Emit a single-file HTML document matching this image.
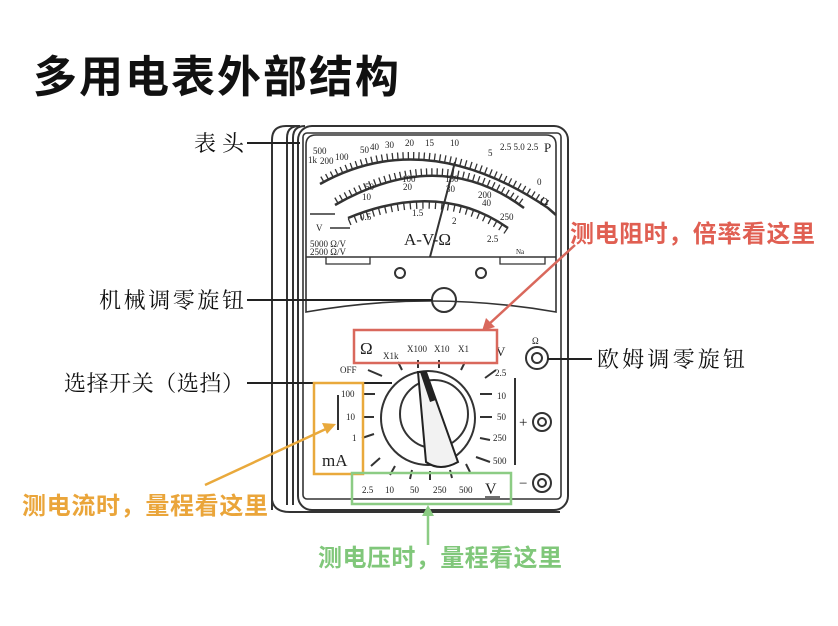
<!DOCTYPE html>
<html><head><meta charset="utf-8"><style>
body{margin:0;background:#fff;width:838px;height:626px;overflow:hidden}
svg{display:block}
.t{font-family:"Liberation Serif","Noto Serif CJK SC",serif;fill:#222}
.c{font-family:"Liberation Sans","Noto Sans CJK SC",sans-serif;font-weight:bold}
.s{font-family:"Liberation Serif","Noto Serif CJK SC",serif;fill:#111}
</style></head><body>
<svg width="838" height="626" viewBox="0 0 838 626" xmlns="http://www.w3.org/2000/svg">
<text x="33" y="92" class="c" font-size="44" letter-spacing="2" fill="#111">多用电表外部结构</text>
<g fill="none" stroke="#333" stroke-width="2">
<path d="M272,510 V140 Q272,126 286,126 H300"/>
<path d="M287,505 V138 Q287,126 299,126"/>
<path d="M293,505 V138 Q293,126 305,126"/>
<rect x="298" y="126" width="270" height="384" rx="14"/>
<path d="M272,500 Q274,512 290,512 H560"/>
<rect x="303" y="133" width="258" height="366" rx="4" stroke-width="1.6"/>
<path d="M306,145 Q306,135 316,135 H546 Q556,135 556,145 V312 Q430,290 306,312 Z" stroke-width="1.6"/>
<line x1="306" y1="257" x2="556" y2="257" stroke-width="1.6"/>
<path d="M326,257 V264 H370 V257 M500,257 V264 H545 V257" stroke-width="1.3"/>
<circle cx="400" cy="273" r="5"/><circle cx="481" cy="273" r="5"/>
<circle cx="444" cy="300" r="12"/>
<path d="M320,184 Q425,125 548,208 L556,215" stroke-width="2.5"/>
<path d="M335,205 Q440,145 524,208" stroke-width="2.5"/>
<path d="M348,218 Q440,180 508,228" stroke-width="2.5"/>
<path d="M322,180 Q425,121 548,204" stroke-width="7" stroke-dasharray="1.3 4"/>
<path d="M336,201 Q440,141 524,204" stroke-width="7" stroke-dasharray="1.3 4"/>
<path d="M349,222 Q440,184 508,232" stroke-width="7" stroke-dasharray="1.3 5"/>
<path d="M310,214 H335" stroke-width="1.5"/>
<path d="M330,228 H350" stroke-width="1.5"/>
<line x1="430" y1="257" x2="455" y2="162" stroke-width="2"/>
<circle cx="428" cy="418" r="47"/>
<circle cx="434" cy="414" r="34"/>
<line x1="515" y1="378" x2="515" y2="465"/>
<line x1="338" y1="395" x2="338" y2="430"/>
<circle cx="542" cy="422" r="9"/><circle cx="542" cy="422" r="4"/>
<circle cx="542" cy="483" r="9"/><circle cx="542" cy="483" r="4"/>
<circle cx="537" cy="358" r="11"/><circle cx="537" cy="358" r="5"/>
<line x1="247" y1="143" x2="300" y2="143" stroke="#222"/>
<line x1="247" y1="300" x2="432" y2="300" stroke="#222"/>
<line x1="247" y1="383" x2="392" y2="383" stroke="#222"/>
<line x1="548" y1="359" x2="592" y2="359" stroke="#222"/>
<path d="M368,370 L382,376 M398,362 L402,370 M418,360 V368 M439,360 V368 M465,362 L461,370 M496,370 L485,378 M362,394 H375 M362,417 H374 M362,438 L374,434 M371,466 L380,458 M390,475 L395,466 M410,479 L412,470 M430,480 V471 M452,478 L450,470 M470,472 L466,464 M480,394 H492 M480,417 H492 M480,438 L490,440 M476,457 L490,462"/>
</g>
<path d="M418,372 L426,372 L458,462 Q440,472 426,462 Z" fill="#f2f2f2" stroke="#222" stroke-width="2"/>
<path d="M420,372 L426,372 L436,400 L430,402 Z" fill="#222"/>
<g class="t" font-size="9">
<text x="313" y="154">500</text><text x="308" y="163">1k</text><text x="320" y="164">200</text><text x="335" y="160">100</text>
<text x="360" y="153">50</text><text x="370" y="150">40</text><text x="385" y="148">30</text><text x="405" y="146">20</text><text x="425" y="146">15</text><text x="450" y="146">10</text><text x="488" y="156">5</text>
<text x="500" y="150">2.5 5.0 2.5</text><text x="544" y="152" font-size="13">P</text><text x="537" y="185">0</text><text x="540" y="205" font-size="11">Ω</text>
<text x="365" y="190">50</text><text x="402" y="182">100</text><text x="445" y="182">150</text><text x="478" y="198">200</text><text x="500" y="220">250</text>
<text x="362" y="200">10</text><text x="403" y="190">20</text><text x="446" y="192">30</text><text x="482" y="206">40</text>
<text x="360" y="220">0.5</text><text x="412" y="216">1.5</text><text x="452" y="224">2</text><text x="487" y="242">2.5</text>
<text x="310" y="247">5000 Ω/V</text><text x="310" y="255">2500 Ω/V</text><text x="316" y="231">V</text><text x="516" y="254" font-size="7">Na</text>
<text x="404" y="245" font-size="17">A-V-Ω</text>
<text x="360" y="354" font-size="17">Ω</text><text x="383" y="359">X1k</text><text x="407" y="352">X100</text><text x="434" y="352">X10</text><text x="458" y="352">X1</text>
<text x="496" y="356" font-size="13">V</text><text x="532" y="344">Ω</text>
<text x="340" y="373">OFF</text><text x="341" y="397">100</text><text x="346" y="420">10</text><text x="352" y="441">1</text>
<text x="322" y="466" font-size="17">mA</text>
<text x="495" y="376">2.5</text><text x="497" y="399">10</text><text x="497" y="420">50</text><text x="493" y="441">250</text><text x="493" y="464">500</text>
<text x="519" y="427" font-size="15">+</text><text x="519" y="488" font-size="15">−</text>
<text x="362" y="493">2.5</text><text x="385" y="493">10</text><text x="410" y="493">50</text><text x="433" y="493">250</text><text x="459" y="493">500</text>
<text x="485" y="494" font-size="16">V</text>
</g>
<line x1="485" y1="497" x2="500" y2="497" stroke="#222" stroke-width="1.3"/>
<g class="s" font-size="22">
<text x="194" y="151" textLength="50">表头</text>
<text x="99" y="308" textLength="145">机械调零旋钮</text>
<text x="64" y="391" textLength="180">选择开关（选挡）</text>
<text x="597" y="367" textLength="148">欧姆调零旋钮</text>
</g>
<rect x="354" y="330" width="143" height="33" fill="none" stroke="#d9685c" stroke-width="2.5"/>
<rect x="314" y="383" width="49" height="91" fill="none" stroke="#e9a93c" stroke-width="2.5"/>
<rect x="352" y="473" width="159" height="31" fill="none" stroke="#8ccc84" stroke-width="2.5"/>
<line x1="575" y1="245" x2="488" y2="325" stroke="#d9685c" stroke-width="2.5"/>
<polygon points="482,331 486,318 495,327" fill="#d9685c"/>
<line x1="205" y1="485" x2="328" y2="428" stroke="#e9a93c" stroke-width="2.5"/>
<polygon points="336,424 322,423 327,434" fill="#e9a93c"/>
<line x1="428" y1="545" x2="428" y2="513" stroke="#8ccc84" stroke-width="2.5"/>
<polygon points="428,505 422,516 434,516" fill="#8ccc84"/>
<text x="570" y="242" class="c" font-size="24" textLength="245" fill="#e05f52">测电阻时，倍率看这里</text>
<text x="22" y="514" class="c" font-size="24" textLength="246" fill="#eaa53a">测电流时，量程看这里</text>
<text x="318" y="566" class="c" font-size="24" textLength="244" fill="#80c77a">测电压时，量程看这里</text>
</svg>
</body></html>
